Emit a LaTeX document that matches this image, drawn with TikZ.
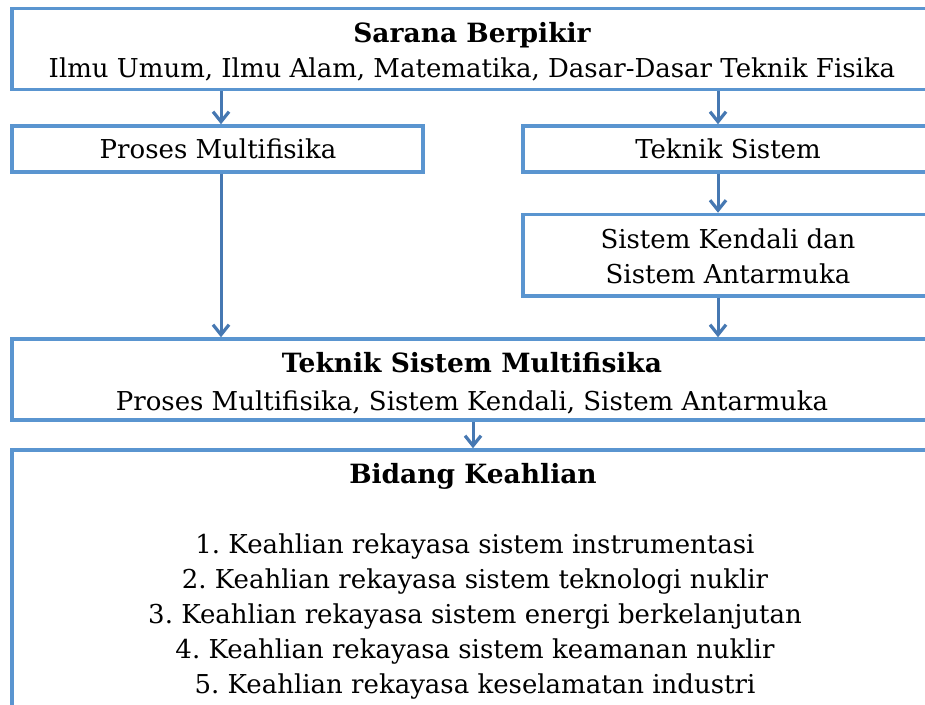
\documentclass[tikz,border=0pt]{standalone}
\usepackage{fontspec}
\setmainfont{DejaVu Serif}
\usetikzlibrary{arrows.meta}
\definecolor{boxblue}{RGB}{90,149,208}
\definecolor{arrblue}{RGB}{70,120,178}
\frenchspacing
\begin{document}
\begin{tikzpicture}[x=1pt,y=-1pt,
  box/.style={draw=boxblue,line width=3.5pt,rectangle,inner sep=0pt,fill=none},
  conn/.style={draw=arrblue,line width=3pt,-{Straight Barb[length=10pt,width=16pt,line width=3.2pt]}},
  txt/.style={anchor=base,inner sep=0pt,font=\fontsize{26}{35}\selectfont},
  btxt/.style={txt,font=\fontsize{26.5}{35}\selectfont\bfseries}]
\useasboundingbox (0,0) rectangle (925,704);
\fill[white] (0,0) rectangle (925,704);
% boxes
\node[box,minimum width=920pt,minimum height=81pt] (top) at (472,49) {};
\node[box,minimum width=411pt,minimum height=46pt] (proses) at (217.5,149) {};
\node[box,minimum width=409pt,minimum height=46pt] (teksis) at (727.5,149) {};
\node[box,minimum width=409pt,minimum height=81.5pt] (kendali) at (727.5,255.25) {};
\node[box,minimum width=920pt,minimum height=81pt] (tsm) at (472,379.5) {};
\node[box,minimum width=920pt,minimum height=280pt] (bidang) at (472,590) {};
% texts
\node[btxt] (t1) at (472,42) {Sarana Berpikir};
\node[txt] (t2) at (472,77) {Ilmu Umum, Ilmu Alam, Matematika, Dasar-Dasar Teknik Fisika};
\node[txt] (t3) at (218,158) {Proses Multifisika};
\node[txt] (t4) at (728,158) {Teknik Sistem};
\node[txt] (t5) at (728,248) {Sistem Kendali dan};
\node[txt] (t6) at (728,283) {Sistem Antarmuka};
\node[btxt] (t7) at (472,372) {Teknik Sistem Multifisika};
\node[txt] (t8) at (472,410) {Proses Multifisika, Sistem Kendali, Sistem Antarmuka};
\node[btxt] (t9) at (473,483) {Bidang Keahlian};
\node[txt] (i1) at (475,553) {1. Keahlian rekayasa sistem instrumentasi};
\node[txt] (i2) at (475,588) {2. Keahlian rekayasa sistem teknologi nuklir};
\node[txt] (i3) at (475,623) {3. Keahlian rekayasa sistem energi berkelanjutan};
\node[txt] (i4) at (475,658) {4. Keahlian rekayasa sistem keamanan nuklir};
\node[txt] (i5) at (475,693) {5. Keahlian rekayasa keselamatan industri};
% connector x positions
\coordinate (xl) at (221,0);
\coordinate (xr) at (718,0);
\coordinate (xm) at (473,0);
\draw[conn] (top.south -| xl) -- (proses.north -| xl);
\draw[conn] (top.south -| xr) -- (teksis.north -| xr);
\draw[conn] (teksis.south -| xr) -- (kendali.north -| xr);
\draw[conn] (proses.south -| xl) -- (tsm.north -| xl);
\draw[conn] (kendali.south -| xr) -- (tsm.north -| xr);
\draw[conn] (tsm.south -| xm) -- (bidang.north -| xm);
\end{tikzpicture}
\end{document}
